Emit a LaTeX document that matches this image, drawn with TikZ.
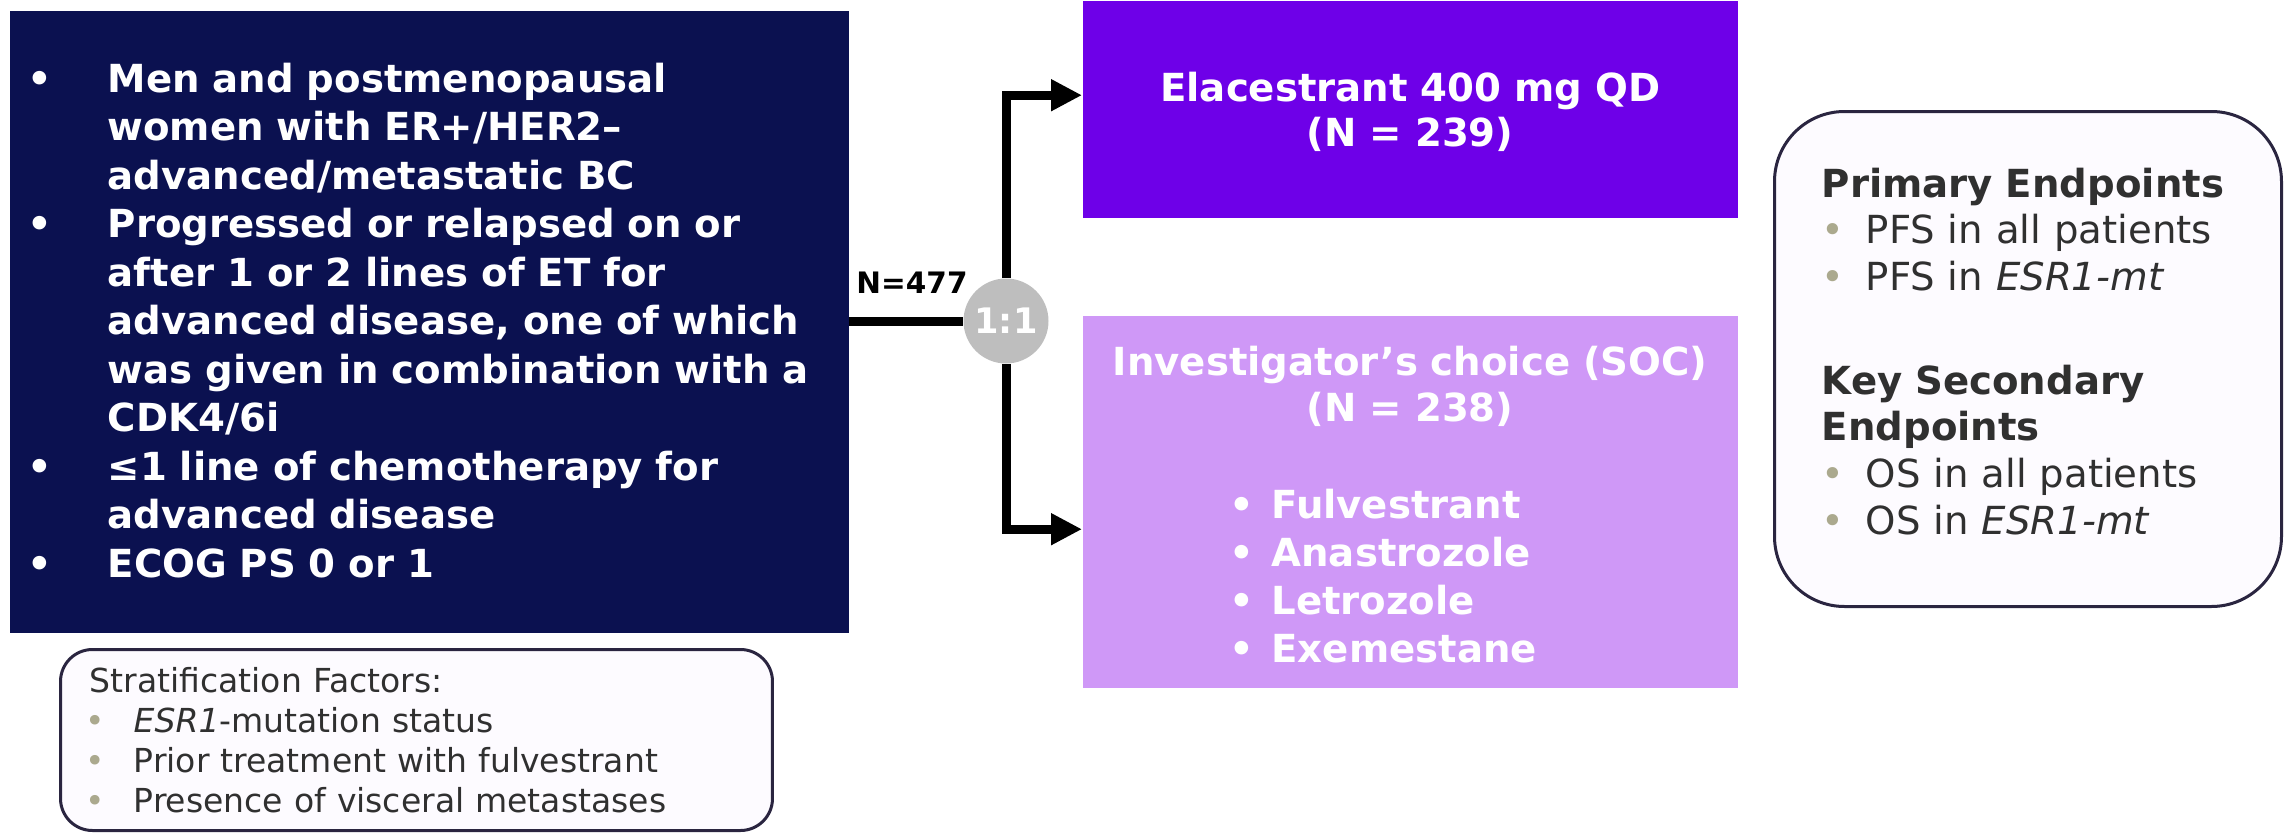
\documentclass[tikz,border=0pt]{standalone}
\usepackage{fontspec}
\setsansfont{DejaVu Sans}
\usetikzlibrary{shapes}
\usetikzlibrary{arrows.meta}
\usetikzlibrary{positioning}

\definecolor{navyfill}{HTML}{0B1150}
\definecolor{elacfill}{HTML}{6E00E8}
\definecolor{socfill}{HTML}{CF98F7}
\definecolor{randfill}{HTML}{BEBEBE}
\definecolor{frameline}{HTML}{2A2540}
\definecolor{framefill}{HTML}{FDFBFF}
\definecolor{notetext}{HTML}{303030}
\definecolor{notedot}{HTML}{ABA98E}

\newcommand{\eligbul}{\makebox[8mm][l]{\textbullet}}
\newcommand{\eligind}{\hspace*{8mm}}
\newcommand{\socbul}{\makebox[4.2mm][l]{\textbullet}}
\newcommand{\epbul}{\makebox[4.4mm][l]{\textcolor{notedot}{\textbullet}}}
\newcommand{\stbul}{\hspace*{-0.4mm}\makebox[4.8mm][l]{\textcolor{notedot}{\textbullet}}}

\tikzset{
  boxnode/.style = {inner sep=0pt, font=\sffamily},
  elig_box/.style = {boxnode, rectangle, fill=navyfill,
    minimum width=83.9mm, minimum height=62.2mm},% population
  elig_text/.style = {boxnode, text=white, align=left, text width=81mm,
    font=\sffamily\bfseries\fontsize{11}{13.8}\selectfont},
  arm_box/.style = {boxnode, rectangle, text=white, align=center, text width=65.5mm,
    font=\sffamily\bfseries\fontsize{11}{12.9}\selectfont},% bras
  rand_node/.style = {boxnode, circle, fill=randfill, text=white, minimum size=8.5mm,
    font=\sffamily\bfseries\fontsize{10}{12}\selectfont},
  n_label/.style = {boxnode, text=black, font=\sffamily\bfseries\fontsize{8.4}{10}\selectfont},
  frame_box/.style = {rectangle, draw=frameline, fill=framefill, line width=0.3mm},
  note_text/.style = {boxnode, text=notetext, align=left},
  flow/.style = {line width=0.9mm, black},
  flow_arrow/.style = {flow, -{Triangle[length=3.1mm,width=3mm]}}
}

\begin{document}
\begin{tikzpicture}[x=0.1mm, y=-0.1mm]
  \useasboundingbox (0,0) rectangle (2292,833);
  % population
  \node [elig_box, anchor=north west] (elig) at (9,10) {};
  \node [elig_text, anchor=base west] (elig_txt) at (27,92) {%
    \eligbul Men and postmenopausal\\
    \eligind women with ER+/HER2–\\
    \eligind advanced/metastatic BC\\
    \eligbul Progressed or relapsed on or\\
    \eligind after 1 or 2 lines of ET for\\
    \eligind advanced disease, one of which\\
    \eligind was given in combination with a\\
    \eligind CDK4/6i\\
    \eligbul ≤1 line of chemotherapy for\\
    \eligind advanced disease\\
    \eligbul ECOG PS 0 or 1};
  % stratification
  \node [frame_box, rounded corners=3.2mm, anchor=north west,
    minimum width=71.2mm, minimum height=18.1mm] (strat) at (59,648) {};
  \node [note_text, anchor=base west, text width=68mm,
    font=\sffamily\fontsize{9.4}{11.4}\selectfont] (strat_txt) at (89,692) {%
    Stratification Factors:\\
    \stbul\textit{ESR1}-mutation status\\
    \stbul Prior treatment with fulvestrant\\
    \stbul Presence of visceral metastases};
  % randomisation
  \node [rand_node] (rand) at (1006,321) {1:1};
  \node [n_label] (n_total) at (912,283) {N=477};
  % bras
  \node [arm_box, fill=elacfill, minimum height=21.7mm, anchor=north west]
    (elac) at (1082,0) {\rule{0pt}{10pt}Elacestrant 400 mg QD\\(N = 239)};
  \node [arm_box, fill=socfill, minimum height=37.2mm, anchor=north west]
    (soc) at (1082,315) {%
    \rule{0pt}{14pt}Investigator’s choice (SOC)\\
    (N = 238)\\[5.2mm]
    \renewcommand{\arraystretch}{1.06}%
    \begin{tabular}[t]{@{}l@{}}
      \socbul Fulvestrant\\
      \socbul Anastrozole\\
      \socbul Letrozole\\
      \socbul Exemestane
    \end{tabular}\hspace*{5.4mm}};
  % endpoints
  \node [frame_box, rounded corners=7mm, anchor=north west,
    minimum width=50.7mm, minimum height=49.5mm] (endp) at (1773,110) {};
  \node [note_text, anchor=base west, text width=46mm,
    font=\sffamily\fontsize{11}{13.3}\selectfont] (endp_txt) at (1821,197) {%
    \textbf{Primary Endpoints}\\
    \epbul PFS in all patients\\
    \epbul PFS in \textit{ESR1-mt}\\[5.7mm]
    \textbf{Key Secondary}\\
    \textbf{Endpoints}\\
    \epbul OS in all patients\\
    \epbul OS in \textit{ESR1-mt}};
  % connecteurs
  \draw [flow] (elig.east |- rand.west) -- (rand.west);
  \draw [flow_arrow] (rand.north) |- ([yshift=1.4mm]elac.west);
  \draw [flow_arrow] (rand.south) |- ([yshift=-2.75mm]soc.west);
\end{tikzpicture}
\end{document}
